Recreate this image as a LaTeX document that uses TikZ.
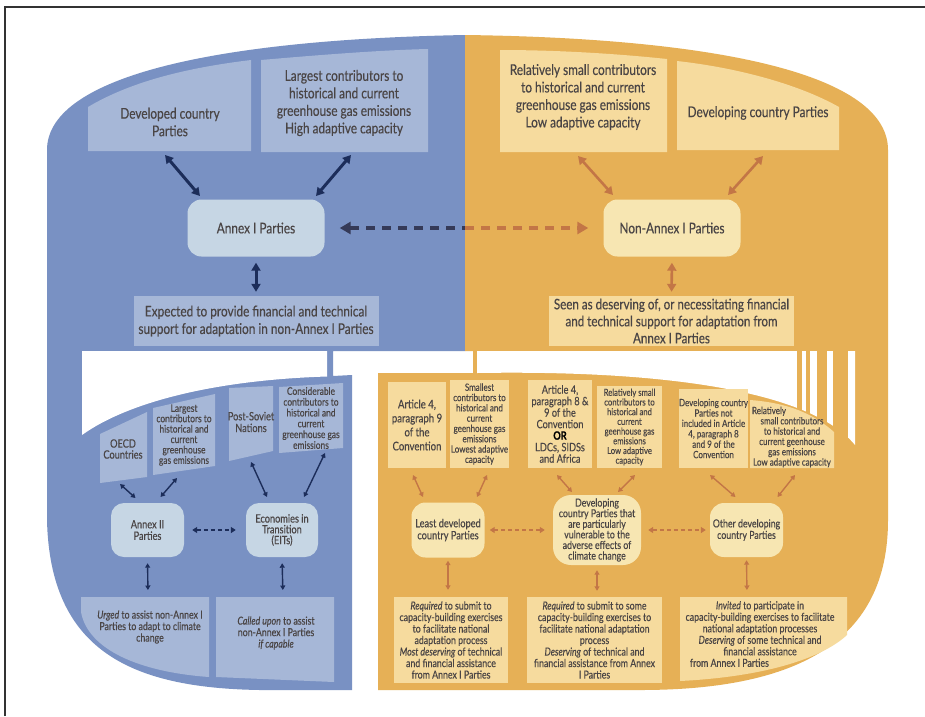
\documentclass[tikz,border=0pt]{standalone}
\usepackage{fontspec}
\setmainfont{Lato}[FakeStretch=0.8,FakeBold=0.35]
\usetikzlibrary{arrows.meta,calc}
\definecolor{cBlueBG}{HTML}{7991C3}
\definecolor{cBlueBox}{HTML}{A6B7D7}
\definecolor{cBlueNode}{HTML}{C6D6E4}
\definecolor{cNavy}{HTML}{1C2D5A}
\definecolor{cNavyD}{HTML}{353A58}
\definecolor{cYelBG}{HTML}{E6B056}
\definecolor{cYelBox}{HTML}{F6DB9E}
\definecolor{cYelNode}{HTML}{F7E6B2}
\definecolor{cOrange}{HTML}{C37646}
\definecolor{cText}{HTML}{4A4545}
\definecolor{cFrame}{HTML}{333333}
\newcommand\setfs[2]{\fontsize{#1}{#2}\selectfont}
\begin{document}
\begin{tikzpicture}[x=1pt,y=-1pt,
  tx/.style={text=cText, align=center, inner sep=0pt},
  bboxs/.style={tx, fill=cBlueBox},
  yboxs/.style={tx, fill=cYelBox},
  bnode/.style={tx, fill=cBlueNode, rounded corners=14pt},
  ynode/.style={tx, fill=cYelNode, rounded corners=14pt},
  navyarrow/.style={draw=cNavy, line width=3pt, {Triangle[length=8pt,width=9pt]}-{Triangle[length=8pt,width=9pt]}},
  orarrow/.style={draw=cOrange, line width=2.6pt, {Triangle[length=8pt,width=9pt]}-{Triangle[length=8pt,width=9pt]}},
  navysmall/.style={draw=cNavy, line width=1.4pt, {Triangle[length=4.5pt,width=5pt]}-{Triangle[length=4.5pt,width=5pt]}},
  orsmall/.style={draw=cOrange, line width=1.4pt, {Triangle[length=4.5pt,width=5pt]}-{Triangle[length=4.5pt,width=5pt]}},
  dashbig/.style={line width=3.2pt, dash pattern=on 9pt off 7pt},
  navydash/.style={draw=cNavy, line width=1.6pt, dash pattern=on 4pt off 3pt, {Triangle[length=5pt,width=6pt]}-{Triangle[length=5pt,width=6pt]}},
  ordash/.style={draw=cOrange, line width=1.6pt, dash pattern=on 4pt off 3pt, {Triangle[length=5pt,width=6pt]}-{Triangle[length=5pt,width=6pt]}}
]
\useasboundingbox (0,0) rectangle (925,716);
\fill[white] (0,0) rectangle (925,716);
\draw[line width=1.4pt, cFrame] (5,716) -- (5,7) -- (925,7);

% ---------- background shapes ----------
\fill[cBlueBG] (47,150) .. controls (47,80) and (200,40) .. (465,35) -- (465,351) -- (333,351) -- (333,376) -- (352,375) -- (352,690) -- (260,690) .. controls (130,688) and (50,650) .. (47,520) -- cycle;
\fill[white] (82,351) -- (327,351) -- (327,376.5) .. controls (215,380) and (128,402) .. (82,435) -- cycle;

\fill[cYelBG] (465,35) .. controls (700,38) and (888,70) .. (888,150) -- (888,520) .. controls (888,640) and (800,690) .. (640,690) -- (378,690) -- (378,373) -- (473,373) -- (473,351) -- (465,351) -- cycle;
\fill[white] (477,351) -- (855,351) -- (855,445) .. controls (810,390) and (660,370) .. (477,373) -- cycle;
\foreach \a/\b in {797/802,806/810,817/827,833/848} \fill[cYelBG] (\a,349) rectangle (\b,450);

% ---------- top blue ----------
\fill[cBlueBox] (88,151) -- (88,107) .. controls (130,82) and (185,68) .. (251,60) -- (251,151) -- cycle;
\fill[cBlueBox] (261,152) -- (261,60) .. controls (330,54) and (385,50) .. (428,49) -- (428,152) -- cycle;
\node[tx, font=\setfs{14.8}{17.5}] (devtxt) at (170,122) {Developed country\\Parties};
\node[tx, font=\setfs{14.8}{17.5}] (largetxt) at (344,103) {Largest contributors to\\historical and current\\greenhouse gas emissions\\High adaptive capacity};
\node[bnode, minimum width=137pt, minimum height=57pt, font=\setfs{14.8}{16}] (annex1) at (256,228) {Annex I Parties};
\node[bboxs, minimum width=245pt, minimum height=50pt, font=\setfs{14.8}{17.5}] (expbox) at (256,321) {Expected to provide financial and technical\\support for adaptation in non-Annex I Parties};

% ---------- top yellow ----------
\fill[cYelBox] (500,152) -- (500,50) .. controls (560,50) and (620,54) .. (667,59) -- (667,152) -- cycle;
\fill[cYelBox] (677,150) -- (677,61) .. controls (740,68) and (800,85) .. (839,107) -- (839,150) -- cycle;
\node[tx, font=\setfs{14.8}{17.5}] (reltxt) at (583,97) {Relatively small contributors\\to historical and current\\greenhouse gas emissions\\Low adaptive capacity};
\node[tx, font=\setfs{14.8}{17.5}] (devingtxt) at (758,113) {Developing country Parties};
\node[ynode, minimum width=137pt, minimum height=57pt, font=\setfs{14.8}{16}] (nonannex) at (672,228) {Non-Annex I Parties};
\node[yboxs, minimum width=245pt, minimum height=50pt, font=\setfs{14.5}{17}] (seenbox) at (671.5,321) {Seen as deserving of, or necessitating financial\\and technical support for adaptation from\\Annex I Parties};

% ---------- lower blue ----------
\fill[cBlueBox] (100,434) -- (147,412) -- (147,477) -- (100,483) -- cycle;
\fill[cBlueBox] (153,408) -- (215,394) -- (215,466) -- (153,475) -- cycle;
\fill[cBlueBox] (229,388) -- (273,386) -- (273,451) -- (229,461) -- cycle;
\fill[cBlueBox] (279,387) -- (343,383) -- (343,448) -- (279,453) -- cycle;
\node[tx, font=\setfs{11.5}{11}] (oecdtxt) at (123,449) {OECD\\Countries};
\node[tx, font=\setfs{10.5}{10.4}] (largest2) at (184,435) {Largest\\contributors to\\historical and\\current\\greenhouse\\gas emissions};
\node[tx, font=\setfs{11.5}{11.7}] (postsov) at (251,422) {Post-Soviet\\Nations};
\node[tx, font=\setfs{10.5}{10.8}] (consid) at (311,418) {Considerable\\contributors to\\historical and\\current\\greenhouse gas\\emissions};
\node[bnode, rounded corners=13pt, minimum width=73pt, minimum height=54pt, font=\setfs{11.5}{11.5}] (annex2) at (147.5,530) {Annex II\\Parties};
\node[bnode, rounded corners=13pt, minimum width=72pt, minimum height=54pt, font=\setfs{11.5}{10.8}] (eit) at (282,530) {Economies in\\Transition\\(EITs)};
\fill[cBlueBox] (81,597) -- (209,597) -- (209,677) .. controls (140,672) and (88,650) .. (81,612) -- cycle;
\fill[cBlueBox] (216,597) -- (334,597) -- (334,682) -- (216,677) -- cycle;
\node[tx, font=\setfs{11}{11.5}] (urgedtxt) at (150,627) {\textit{Urged} to assist non-Annex I\\Parties to adapt to climate\\change};
\node[tx, font=\setfs{11}{11.5}] (calledtxt) at (276,633) {\textit{Called upon} to assist\\non-Annex I Parties\\\textit{if capable}};
\coordinate (urgedtop) at (148,597);
\coordinate (calledtop) at (283,597);

% ---------- lower yellow ----------
\node[yboxs, minimum width=58pt, minimum height=86pt, font=\setfs{12}{14}] (art9) at (417,425) {Article 4,\\paragraph 9\\of the\\Convention};
\node[yboxs, minimum width=59pt, minimum height=88pt, font=\setfs{10}{10.3}] (smallest) at (479.5,424) {Smallest\\contributors to\\historical and\\current\\geenhouse gas\\emissions\\Lowest adaptive\\capacity};
\node[yboxs, minimum width=64pt, minimum height=88pt, font=\setfs{11.5}{11.5}] (art89) at (560,424) {Article 4,\\paragraph 8 \&\\9 of the\\Convention\\{\bfseries\color{black}OR}\\LDCs, SIDSs\\and Africa};
\node[yboxs, minimum width=65pt, minimum height=82pt, font=\setfs{9.6}{9.7}] (relsmall) at (629.5,427) {Relatively small\\contributors to\\historical and\\current\\geenhouse gas\\emissions\\Low adaptive\\capacity};
\node[yboxs, minimum width=67pt, minimum height=79pt, font=\setfs{10}{10.4}] (notincl) at (713.5,428.5) {Developing country\\Parties not\\included in Article\\4, paragraph 8\\and 9 of the\\Convention};
\fill[cYelBox] (750,468) -- (750,400) .. controls (790,403) and (815,415) .. (834,432) -- (834,468) -- cycle;
\node[tx, font=\setfs{10}{10.3}] (relsm3) at (792,437) {\makebox[80pt][l]{Relatively}\\small contributors\\to historical and\\current geenhouse\\gas emissions\\Low adaptive capacity};
\node[ynode, minimum width=73pt, minimum height=55pt, font=\setfs{11.5}{12}] (ldc) at (448,530) {Least developed\\country Parties};
\node[ynode, rounded corners=18pt, minimum width=88pt, minimum height=70pt, font=\setfs{11}{10.6}] (vuln) at (597,530) {Developing\\country Parties that\\are particularly\\vulnerable to the\\adverse effects of\\climate change};
\node[ynode, minimum width=73pt, minimum height=54pt, font=\setfs{11}{11.5}] (other) at (746.5,530) {Other developing\\country Parties};
\node[yboxs, minimum width=114pt, minimum height=86pt, font=\setfs{11}{11.5}] (req1) at (451,640) {\textit{Required} to submit to\\capacity-building exercises\\to facilitate national\\adaptation process\\\textit{Most deserving} of technical\\and financial assistance\\from Annex I Parties};
\node[yboxs, minimum width=135pt, minimum height=86pt, font=\setfs{11}{11.5}] (req2) at (594.5,640) {\textit{Required} to submit to some\\capacity-building exercises to\\facilitate national adaptation\\process\\\textit{Deserving} of technical and\\financial assistance from Annex\\I Parties};
\fill[cYelBox] (680,597) -- (847,597) -- (847,635) .. controls (820,660) and (760,677) .. (680,681) -- cycle;
\node[tx, font=\setfs{11}{11.5}] (invtxt) at (760,634) {\textit{Invited} to participate in\\capacity-building exercises to facilitate\\national adaptation processes\\\textit{Deserving} of some technical and\\financial assistance\\\makebox[140pt][l]{from Annex I Parties}};
\coordinate (invitedtop) at (747,597);

% ---------- top connectors ----------
\draw[navyarrow] ($(devtxt)+(-5,33)$) -- ($(annex1)+(-56,-32)$);
\draw[navyarrow] ($(largetxt)+(7,52)$) -- ($(annex1)+(60,-32)$);
\draw[navyarrow, shorten <=6pt, shorten >=4pt] (annex1.south) -- (expbox.north);
\draw[orarrow] ($(reltxt)+(-5,59)$) -- ($(nonannex)+(-59,-33)$);
\draw[orarrow] ($(devingtxt)+(5,43)$) -- ($(nonannex)+(56,-33)$);
\draw[orarrow, shorten <=6pt, shorten >=4pt] (nonannex.south) -- (seenbox.north);
\coordinate (dmid) at (465,228);
\draw[dashbig, draw=cNavyD, {Triangle[length=11pt,width=12pt]}-, shorten <=15pt] (annex1.east) -- (dmid);
\draw[dashbig, draw=cOrange, -{Triangle[length=11pt,width=12pt]}, shorten >=15pt] (dmid) -- (nonannex.west);

% ---------- lower blue connectors ----------
\draw[navysmall] ($(oecdtxt)+(-3,35)$) -- ($(annex2)+(-12,-32)$);
\draw[navysmall] ($(largest2)+(-7,43)$) -- ($(annex2)+(13,-33)$);
\draw[navysmall] ($(postsov)+(0,40)$) -- ($(eit)+(-15,-33)$);
\draw[navysmall] ($(consid)+(14,35)$) -- ($(eit)+(22,-33)$);
\draw[navydash, shorten <=8pt, shorten >=10pt] (annex2.east) -- (eit.west);
\draw[navysmall, shorten <=6pt, shorten >=7pt] (annex2.south) -- (urgedtop);
\draw[navysmall, shorten <=6pt, shorten >=7pt] (eit.south) -- (calledtop);

% ---------- lower yellow connectors ----------
\draw[orsmall] ($(art9)+(-4,50)$) -- ($(ldc)+(-25,-33)$);
\draw[orsmall] ($(smallest)+(7.5,51)$) -- ($(ldc)+(29,-33)$);
\draw[orsmall] ($(art89)+(-3,51)$) -- ($(vuln)+(-25,-38)$);
\draw[orsmall] ($(relsmall)+(5.5,48)$) -- ($(vuln)+(21,-38)$);
\draw[orsmall] ($(notincl)+(-3.5,46.5)$) -- ($(other)+(-11,-33)$);
\draw[orsmall] ($(relsm3)+(3,38)$) -- ($(other)+(31,-33)$);
\draw[ordash, shorten <=5pt, shorten >=8pt] (ldc.east) -- (vuln.west);
\draw[ordash, shorten <=7pt, shorten >=4pt] (vuln.east) -- (other.west);
\draw[orsmall, shorten <=3pt, shorten >=7pt] (ldc.south) -- (ldc.south |- req1.north);
\draw[orsmall, shorten <=5pt, shorten >=6pt] (vuln.south) -- (vuln.south |- req2.north);
\draw[orsmall, shorten <=3pt, shorten >=7pt] (other.south) -- (invitedtop);
\end{tikzpicture}
\end{document}
